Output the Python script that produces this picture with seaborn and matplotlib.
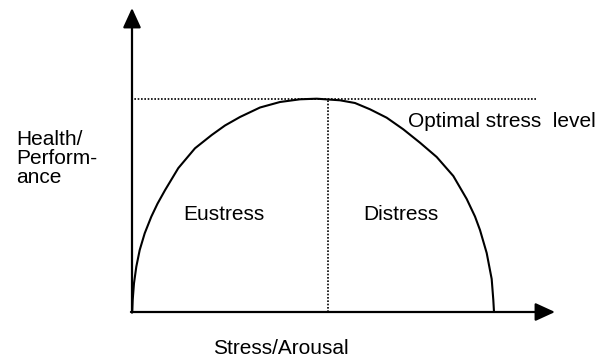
import matplotlib
matplotlib.use('Agg')
import matplotlib.pyplot as plt
import seaborn as sb
import pandas as pd

# values: stress/arousal (0-100) vs health/performance (0-100)
stress = [0, 0.08, 0.19, 0.55, 1.19, 2.13, 3.51, 5.33, 7.04, 9.12, 12.79, 17.40, 22.02,
          25.69, 29.83, 35.36, 40.88, 46.41, 51.02, 57.46, 61.60, 65.75, 70.36, 74.94,
          79.56, 84.17, 88.76, 92.46, 94.75, 96.13, 97.98, 99.36, 99.81, 100]
performance = [0, 0.94, 5.63, 13.46, 21.24, 29.07, 36.90, 44.68, 50.77, 57.10, 67.46, 76.75,
               82.98, 87.44, 91.42, 95.87, 98.45, 99.72, 100, 99.25, 97.98, 95.03, 91.09,
               85.65, 79.37, 72.67, 63.76, 52.98, 44.77, 38.44, 27.66, 15.47, 5.63, 0]
optimal_stress = 54.1
optimal_level = 100

x_label = 'Stress/Arousal'
y_label = ['Health/', 'Perform-', 'ance']
zone_labels = ['Eustress', 'Distress']
optimal_label = 'Optimal stress  level'

curve = pd.DataFrame({'stress': stress, 'performance': performance})

sb.set_theme(style='white')
plt.rcParams['font.family'] = ['Liberation Sans', 'DejaVu Sans']

# figure is 610x358 px, axes fill it; the origin of the drawn axes sits at (132, 312) px
px_x, px_y = 3.62, 2.133
fig = plt.figure(figsize=(6.1, 3.58), dpi=100)
ax = fig.add_axes([0, 0, 1, 1])
ax.set_xlim(-132 / px_x, (610 - 132) / px_x)
ax.set_ylim(-(358 - 312) / px_y, 312 / px_y)
ax.axis('off')

sb.lineplot(data=curve, x='stress', y='performance', color='black', lw=1.5, ax=ax)

# dotted guides for the optimum
ax.plot([-0.3, 111.9], [optimal_level, optimal_level], color='black', lw=1.2,
        linestyle=(0, (1, 1)))
ax.plot([optimal_stress, optimal_stress], [0, optimal_level], color='black', lw=1.2,
        linestyle=(0, (1, 1)))

# axes with arrow heads
arrow = dict(arrowstyle='-|>,head_length=1.2,head_width=0.55', mutation_scale=10,
             lw=1.6, color='black', shrinkA=0, shrinkB=0)
ax.annotate('', xy=(0, (312 - 8) / px_y), xytext=(0, -0.3), arrowprops=arrow)
ax.annotate('', xy=((555 - 132) / px_x, 0), xytext=(-0.3, 0), arrowprops=arrow)

fs = 15
ax.text(76.2, 86.7, optimal_label, fontsize=fs, ha='left', va='baseline', color='black')
ax.text(14.2, 43.1, zone_labels[0], fontsize=fs, ha='left', va='baseline', color='black')
ax.text(63.9, 43.1, zone_labels[1], fontsize=fs, ha='left', va='baseline', color='black')
for line, yb in zip(y_label, [78.3, 69.2, 60.5]):
    ax.text(-32.0, yb, line, fontsize=fs, ha='left', va='baseline', color='black')
ax.text(41.0, -19.7, x_label, fontsize=fs, ha='center', va='baseline', color='black')

fig.savefig('out.png', dpi=100)
